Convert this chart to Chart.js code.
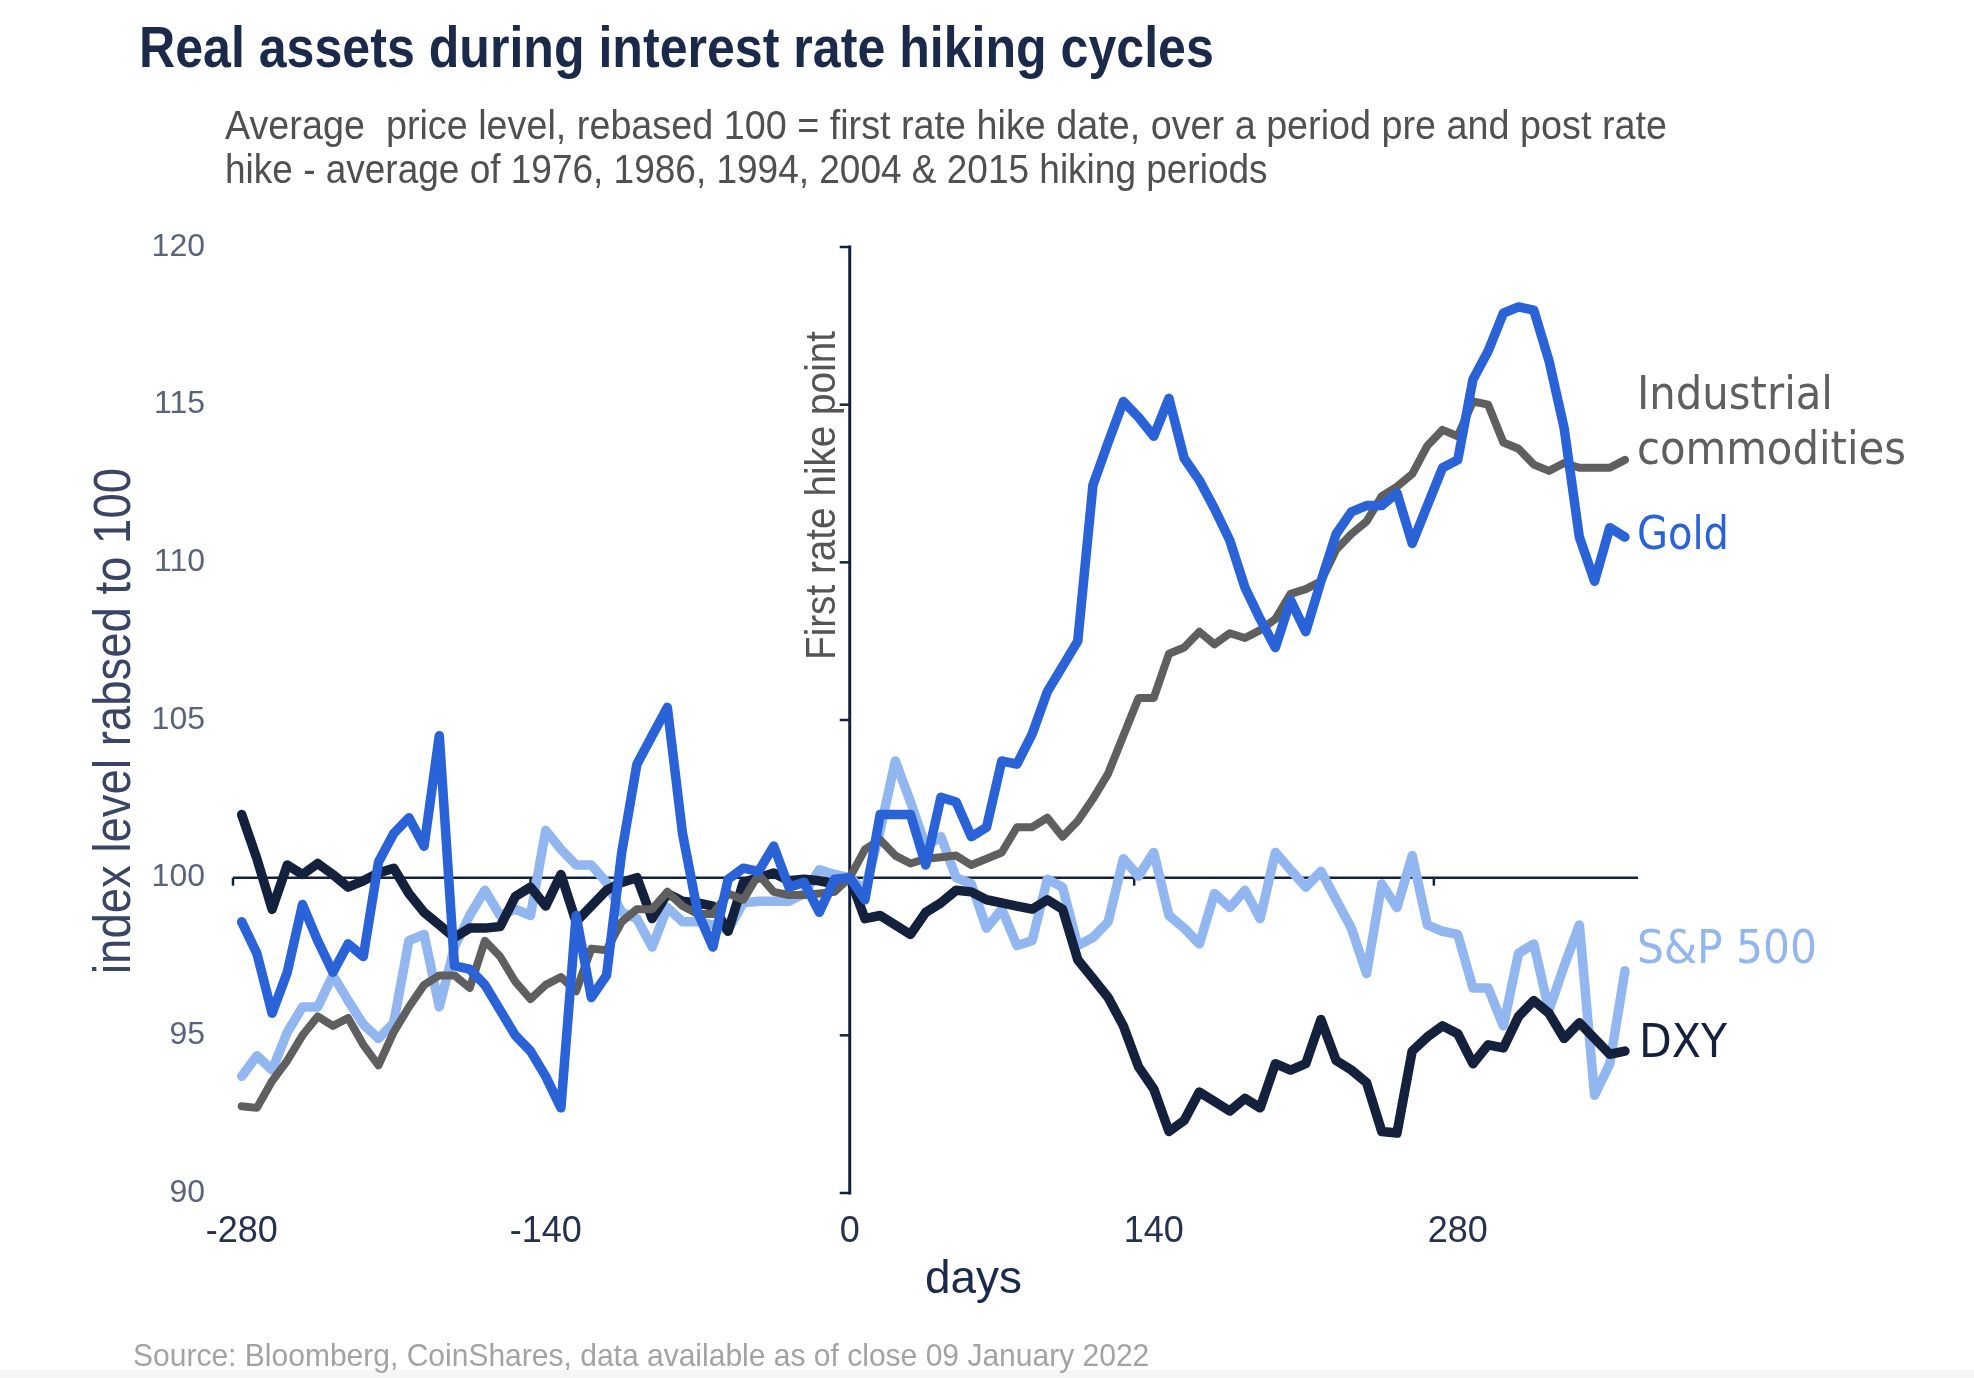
<!DOCTYPE html>
<html>
<head>
<meta charset="utf-8">
<script src="https://cdn.jsdelivr.net/npm/chart.js@4.4.1/dist/chart.umd.min.js"></script>
<style>
html,body{margin:0;padding:0;background:#fff;width:1974px;height:1378px;overflow:hidden;}
#wrap{position:relative;width:1974px;height:1378px;}
#c{position:absolute;left:0;top:0;width:1974px;height:1378px;}
.t{position:absolute;white-space:pre;transform-origin:0 0;font-family:'Liberation Sans',Arial,sans-serif;line-height:1;margin:0;z-index:2;}
#title{left:139px;top:19px;font-size:57px;font-weight:bold;color:#1b2a4a;}
#sub1{left:225px;top:105px;font-size:40px;color:#505050;}
#sub2{left:225px;top:149px;font-size:40px;color:#505050;}
#source{left:133px;top:1339px;font-size:32px;color:#a3a3a3;}
#band{position:absolute;left:0;bottom:0;width:1974px;height:8px;background:#f5f5f5;z-index:1;}
</style>
</head>
<body>
<div id="wrap">
<canvas id="c" width="1974" height="1378"></canvas>
<div class="t" id="title" data-w="1075">Real assets during interest rate hiking cycles</div>
<div class="t" id="sub1" data-w="1442">Average  price level, rebased 100 = first rate hike date, over a period pre and post rate</div>
<div class="t" id="sub2" data-w="1043">hike - average of 1976, 1986, 1994, 2004 &amp; 2015 hiking periods</div>
<div class="t" id="source" data-w="1016">Source: Bloomberg, CoinShares, data available as of close 09 January 2022</div>
<div id="band"></div>
</div>
<script>
// ---- data ----
const days = [-280,-273,-266,-259,-252,-245,-238,-231,-224,-217,-210,-203,-196,-189,-182,-175,-168,-161,-154,-147,
  -140,-133,-126,-119,-112,-105,-98,-91,-84,-77,-70,-63,-56,-49,-42,-35,-28,-21,-14,-7,
  0,7,14,21,28,35,42,49,56,63,70,77,84,91,98,105,112,119,126,133,
  140,147,154,161,168,175,182,189,196,203,210,217,224,231,238,245,252,259,266,273,
  280,287,294,301,308,315,322,329,336,343,350,357];

const gold = [98.6,97.6,95.7,97.0,99.15,98.0,97.0,97.9,97.5,100.5,101.4,101.9,101.0,104.5,97.2,97.1,96.6,95.8,95.0,94.5,
  93.7,92.7,98.8,96.2,96.9,100.8,103.6,104.5,105.4,101.4,98.9,97.8,99.95,100.3,100.2,101.0,99.7,99.85,98.9,99.95,
  100,99.3,102.0,102.0,102.0,100.4,102.55,102.4,101.3,101.6,103.7,103.6,104.55,105.9,106.7,107.5,112.45,113.8,115.1,114.6,
  114.0,115.2,113.3,112.6,111.7,110.7,109.2,108.2,107.3,108.8,107.8,109.4,110.9,111.6,111.8,111.8,112.2,110.6,111.8,113.0,
  113.25,115.8,116.7,117.9,118.1,118.0,116.4,114.25,110.8,109.4,111.1,110.8];

const industrial = [92.75,92.7,93.55,94.2,95.0,95.6,95.3,95.55,94.7,94.05,95.1,95.9,96.6,96.9,96.9,96.5,98.0,97.5,96.7,96.15,
  96.6,96.85,96.4,97.75,97.7,98.6,99.0,99.0,99.55,99.1,98.85,98.85,99.5,99.3,100.1,99.55,99.45,99.45,99.5,99.55,
  100,100.9,101.2,100.7,100.45,100.6,100.65,100.7,100.4,100.6,100.8,101.6,101.6,101.9,101.3,101.8,102.5,103.3,104.5,105.7,
  105.7,107.1,107.3,107.8,107.4,107.75,107.6,107.85,108.2,109.0,109.15,109.4,110.4,110.9,111.3,112.1,112.4,112.8,113.7,114.2,
  114.0,115.1,115.0,113.8,113.6,113.1,112.9,113.15,113.0,113.0,113.0,113.25];

const sp500 = [93.7,94.35,93.9,95.1,95.9,95.9,96.9,96.1,95.35,94.9,95.4,98.0,98.2,95.9,97.8,98.8,99.6,98.8,99.0,98.8,
  101.5,100.9,100.4,100.4,99.85,98.9,98.7,97.8,99.05,98.6,98.6,98.5,98.35,99.2,99.25,99.25,99.25,99.5,100.25,100.1,
  100,99.6,101.5,103.7,102.4,101.0,101.3,100.0,99.8,98.4,99.0,97.85,98.0,99.95,99.7,97.85,98.1,98.6,100.6,100.05,
  100.8,98.8,98.4,97.9,99.5,99.05,99.6,98.7,100.8,100.25,99.7,100.2,99.3,98.4,96.96,99.8,99.05,100.7,98.5,98.3,
  98.2,96.5,96.5,95.3,97.6,97.9,95.8,97.2,98.5,93.1,94.1,97.05];

const dxy = [102.0,100.6,99.0,100.4,100.1,100.45,100.1,99.7,99.9,100.15,100.3,99.5,98.9,98.5,98.1,98.4,98.4,98.45,99.4,99.7,
  99.1,100.1,98.6,99.1,99.6,99.85,100.0,98.7,99.5,99.25,99.2,99.1,98.3,99.85,100.0,100.15,99.9,99.95,99.9,99.8,
  100,98.7,98.8,98.5,98.2,98.9,99.2,99.6,99.55,99.3,99.2,99.1,99.0,99.3,99.0,97.4,96.8,96.2,95.3,94.0,
  93.3,91.95,92.3,93.2,92.9,92.6,93.0,92.7,94.1,93.9,94.1,95.5,94.2,93.9,93.5,91.95,91.9,94.5,94.95,95.3,
  95.05,94.1,94.7,94.6,95.6,96.1,95.7,94.9,95.4,94.9,94.4,94.5];

const xTickLabels = [-280, -140, 0, 140, 280];
const yTickLabels = [90, 95, 100, 105, 110, 115, 120];
const baseTickDays = [-284, -147, -9, 131, 269];

const NAVY = '#14213d';
const COLORS = { gold:'#2a62d8', industrial:'#5f5f5f', sp500:'#92b7f0', dxy:'#14213d' };

const toXY = arr => days.map((d, i) => ({ x: d, y: arr[i] }));

function fitText(ctx, txt, x, y, w, font, color, rot) {
  ctx.save();
  ctx.font = font;
  ctx.fillStyle = color;
  ctx.textBaseline = 'alphabetic';
  ctx.textAlign = 'left';
  const m = ctx.measureText(txt).width;
  ctx.translate(x, y);
  if (rot) ctx.rotate(rot);
  ctx.scale(w / m, 1);
  ctx.fillText(txt, 0, 0);
  ctx.restore();
}

const refPlugin = {
  id: 'refAxes',
  beforeDatasetsDraw(chart) {
    const { ctx, chartArea: a, scales: { x, y } } = chart;
    ctx.save();
    ctx.strokeStyle = NAVY;
    ctx.lineCap = 'butt';
    const y100 = y.getPixelForValue(100);
    ctx.lineWidth = 2.5;
    ctx.beginPath(); ctx.moveTo(a.left, y100); ctx.lineTo(a.right, y100); ctx.stroke();
    baseTickDays.forEach(d => {
      const px = x.getPixelForValue(d);
      ctx.beginPath(); ctx.moveTo(px, y100); ctx.lineTo(px, y100 + 8); ctx.stroke();
    });
    const x0 = x.getPixelForValue(0);
    ctx.lineWidth = 3;
    ctx.beginPath();
    ctx.moveTo(x0, y.getPixelForValue(120) - 1.5);
    ctx.lineTo(x0, y.getPixelForValue(90) + 1.5);
    ctx.stroke();
    ctx.lineWidth = 2.5;
    yTickLabels.forEach(v => {
      const py = y.getPixelForValue(v);
      ctx.beginPath(); ctx.moveTo(x0 - 10, py); ctx.lineTo(x0, py); ctx.stroke();
    });
    ctx.restore();
  },
  afterDraw(chart) {
    const { ctx, scales: { x } } = chart;
    fitText(ctx, 'index level rabsed to 100', 130, 974, 506, '52px "Liberation Sans"', '#3a4565', -Math.PI / 2);
    fitText(ctx, 'First rate hike point', 835, 660, 329, '43px "Liberation Sans"', '#555555', -Math.PI / 2);
    fitText(ctx, 'days', 925, 1293, 97, '46px "Liberation Sans"', '#1b2a4a');
    const lx = x.getPixelForValue(days[days.length - 1]) + 12;
    const f = '46px "DejaVu Sans"';
    fitText(ctx, 'Industrial', lx, 409, 196, f, COLORS.industrial);
    fitText(ctx, 'commodities', lx, 464, 269, f, COLORS.industrial);
    fitText(ctx, 'Gold', lx, 549, 92, f, COLORS.gold);
    fitText(ctx, 'S&P 500', lx, 963, 180, f, COLORS.sp500);
    fitText(ctx, 'DXY', lx + 2, 1057, 88, f, COLORS.dxy);
  }
};

const ds = (label, arr, color, order, width) => ({
  label, data: toXY(arr), borderColor: color, backgroundColor: color,
  borderWidth: width, pointRadius: 0, tension: 0, order,
  borderJoinStyle: 'round', borderCapStyle: 'round', fill: false
});

new Chart(document.getElementById('c'), {
  type: 'line',
  data: {
    datasets: [
      ds('Gold', gold, COLORS.gold, 0, 9.5),
      ds('Industrial commodities', industrial, COLORS.industrial, 1, 8),
      ds('DXY', dxy, COLORS.dxy, 2, 9.5),
      ds('S&P 500', sp500, COLORS.sp500, 3, 9.5)
    ]
  },
  options: {
    responsive: false,
    devicePixelRatio: 1,
    animation: false,
    layout: { padding: { left: 0, right: 336, top: 247, bottom: 125 } },
    plugins: { legend: { display: false }, tooltip: { enabled: false } },
    scales: {
      x: {
        type: 'linear', min: -284, max: 363,
        grid: { display: false, drawTicks: false },
        border: { display: false },
        afterBuildTicks: s => { s.ticks = xTickLabels.map(v => ({ value: v })); },
        afterFit: s => { s.height = 60; },
        ticks: {
          autoSkip: false, maxRotation: 0, padding: 17,
          color: '#26314d',
          font: { family: '"Liberation Sans"', size: 36 },
          callback: v => String(v)
        }
      },
      y: {
        type: 'linear', min: 90, max: 120,
        grid: { display: false, drawTicks: false },
        border: { display: false },
        afterBuildTicks: s => { s.ticks = yTickLabels.map(v => ({ value: v })); },
        afterFit: s => { s.width = 233; },
        ticks: {
          padding: 28,
          color: '#5b6378',
          font: { family: '"Liberation Sans"', size: 32 },
          callback: v => String(v)
        }
      }
    }
  },
  plugins: [refPlugin]
});

// condense HTML text to the reference widths
document.querySelectorAll('.t').forEach(el => {
  const w = parseFloat(el.dataset.w);
  const m = el.offsetWidth;
  if (m > 0) el.style.transform = 'scaleX(' + (w / m) + ')';
});
</script>
</body>
</html>
